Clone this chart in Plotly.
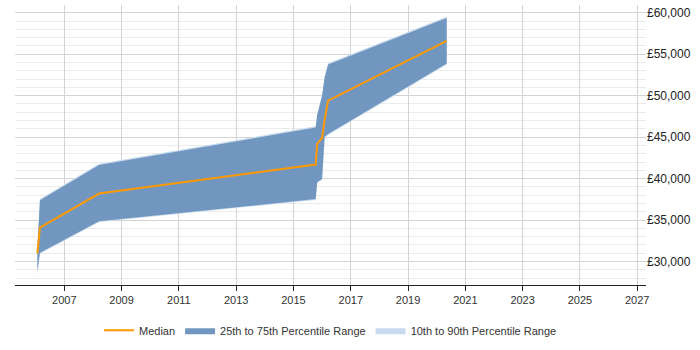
import plotly.graph_objects as go

dates = ["2006-01-23", "2006-02-25", "2008-03-20", "2015-10-12", "2015-10-30",
         "2016-01-01", "2016-02-03", "2016-03-18", "2020-05-08"]
median = [31000, 34100, 38200, 41700, 44200, 44900, 47100, 49400, 56600]
p25 = [28900, 31050, 34860, 37530, 39560, 39960, 45050, 45370, 53870]
p75 = [31500, 37400, 41650, 46150, 47600, 49960, 52190, 53750, 59365]
p10 = [28300, 30950, 34760, 37430, 39460, 39860, 44950, 45270, 53770]
p90 = [31600, 37550, 41800, 46300, 47750, 50110, 52340, 53900, 59515]

band_dark = "rgb(113,151,192)"
band_light = "rgb(200,218,238)"
orange = "#ff9900"

fig = go.Figure()
fig.add_trace(go.Scatter(x=dates, y=p10, mode="lines", line=dict(width=0, color=band_light),
                         showlegend=False, hoverinfo="skip"))
fig.add_trace(go.Scatter(x=dates, y=p90, mode="lines", line=dict(width=0, color=band_light),
                         fill="tonexty", fillcolor=band_light,
                         name="10th to 90th Percentile Range", legendrank=3))
fig.add_trace(go.Scatter(x=dates, y=p25, mode="lines", line=dict(width=0, color=band_dark),
                         showlegend=False, hoverinfo="skip"))
fig.add_trace(go.Scatter(x=dates, y=p75, mode="lines", line=dict(width=0, color=band_dark),
                         fill="tonexty", fillcolor=band_dark,
                         name="25th to 75th Percentile Range", legendrank=2))
fig.add_trace(go.Scatter(x=dates, y=median, mode="lines", line=dict(width=2, color=orange),
                         name="Median", legendrank=1))

fig.update_layout(
    width=700, height=350,
    margin=dict(l=15, r=54, t=5, b=58),
    paper_bgcolor="white", plot_bgcolor="white",
    font=dict(family="Liberation Sans, Arial, sans-serif", size=11, color="#333"),
    showlegend=True,
    legend=dict(orientation="h", x=0.5, xanchor="center", y=-0.11, yanchor="top",
                font=dict(size=11, color="#333"), traceorder="normal"),
    xaxis=dict(
        type="date", range=["2005-04-13", "2027-04-23"],
        tick0="2007-01-01", dtick="M24", tickformat="%Y",
        showgrid=True, gridcolor="#d4d4d4", gridwidth=1,
        showline=True, linecolor="#222", linewidth=1,
        ticks="outside", ticklen=5, tickcolor="#222",
        zeroline=False,
    ),
    yaxis=dict(
        side="right", range=[27176, 60930],
        tick0=30000, dtick=5000, tickprefix="£", tickformat=",d",
        tickfont=dict(size=12, color="#222"),
        showgrid=True, gridcolor="#d4d4d4", gridwidth=1,
        minor=dict(dtick=1000, showgrid=True, gridcolor="#ebebeb", gridwidth=1),
        showline=False, zeroline=False, ticks="",
    ),
)

fig.write_html("out.html")
